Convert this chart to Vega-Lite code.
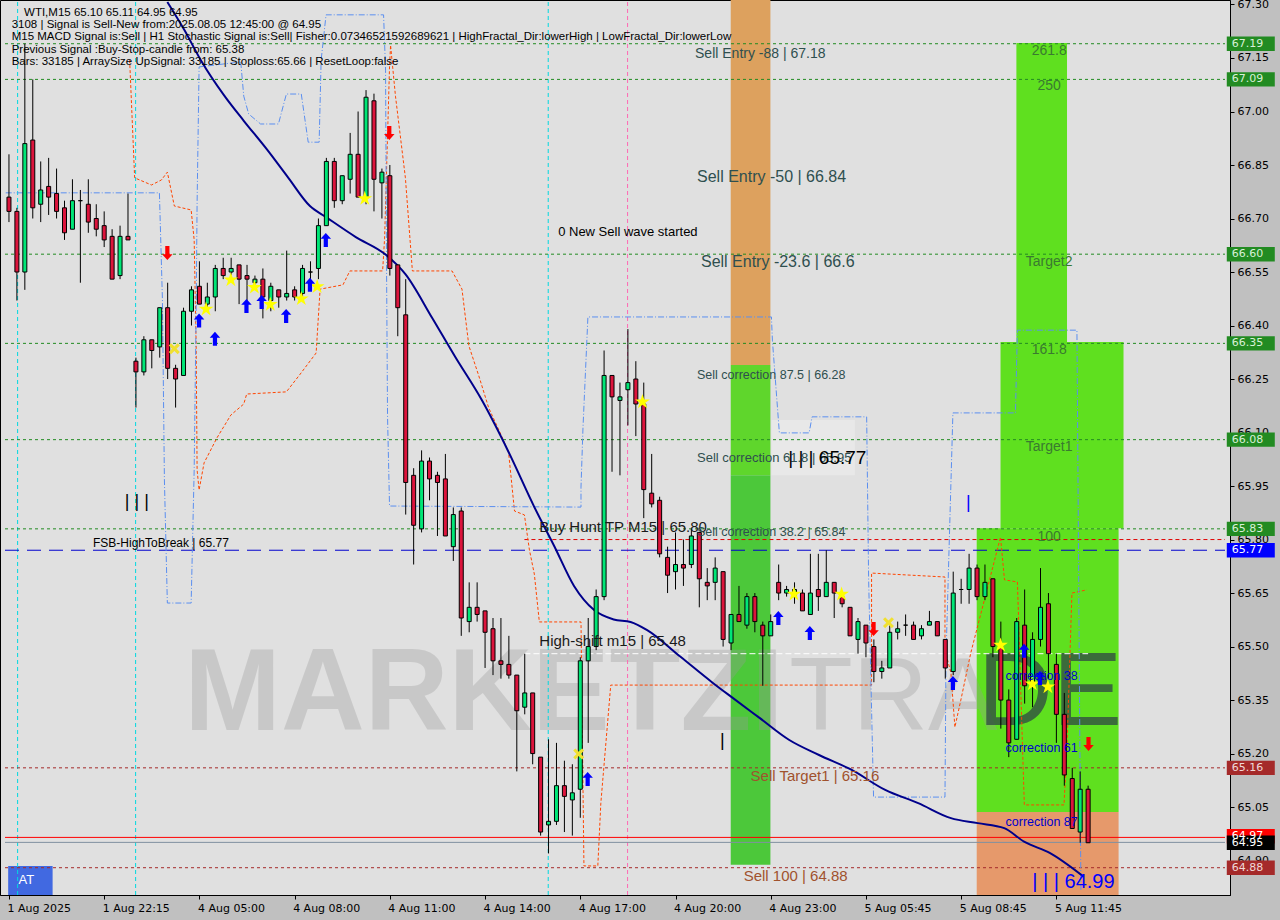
{
"$schema":"https://vega.github.io/schema/vega-lite/v6.json",
"width":1230,"height":895,
"autosize":{"type":"none"},
"padding":{"left":0,"top":0,"right":50,"bottom":25},
"background":"#c0c0c0",
"config":{"view":{"fill":"#e0e0e0","stroke":"#000000","strokeWidth":1},"font":"Liberation Sans","text":{"font":"Liberation Sans"},
 "axisBottom":{"labelColor":"#000000","labelFont":"DejaVu Sans","labelFontSize":11,"tickColor":"#000000","tickSize":4,"domainColor":"#000000","labelAlign":"left","labelPadding":3,"labelOffset":-2}},
"data":{"values":[
{"i":0,"o":66.76,"h":66.88,"l":66.69,"c":66.72},{"i":1,"o":66.72,"h":66.73,"l":66.47,"c":66.55},{"i":2,"o":66.55,"h":67.19,"l":66.50,"c":66.91},{"i":3,"o":66.92,"h":67.09,"l":66.70,"c":66.73},{"i":4,"o":66.74,"h":66.86,"l":66.69,"c":66.78},{"i":5,"o":66.79,"h":66.87,"l":66.71,"c":66.76},{"i":6,"o":66.77,"h":66.84,"l":66.70,"c":66.72},{"i":7,"o":66.73,"h":66.75,"l":66.64,"c":66.66},{"i":8,"o":66.67,"h":66.81,"l":66.67,"c":66.75},{"i":9,"o":66.75,"h":66.78,"l":66.52,"c":66.75},
{"i":10,"o":66.74,"h":66.81,"l":66.66,"c":66.69},{"i":11,"o":66.70,"h":66.74,"l":66.65,"c":66.67},{"i":12,"o":66.68,"h":66.72,"l":66.62,"c":66.64},{"i":13,"o":66.65,"h":66.67,"l":66.53,"c":66.53},{"i":14,"o":66.54,"h":66.68,"l":66.53,"c":66.65},{"i":15,"o":66.65,"h":66.77,"l":66.64,"c":66.64},{"i":16,"o":66.30,"h":66.31,"l":66.17,"c":66.27},{"i":17,"o":66.27,"h":66.37,"l":66.26,"c":66.36},{"i":18,"o":66.36,"h":66.36,"l":66.28,"c":66.33},{"i":19,"o":66.34,"h":66.45,"l":66.31,"c":66.45},
{"i":20,"o":66.45,"h":66.52,"l":66.25,"c":66.28},{"i":21,"o":66.28,"h":66.29,"l":66.17,"c":66.25},{"i":22,"o":66.26,"h":66.45,"l":66.26,"c":66.44},{"i":23,"o":66.44,"h":66.51,"l":66.40,"c":66.50},{"i":24,"o":66.51,"h":66.58,"l":66.46,"c":66.46},{"i":25,"o":66.46,"h":66.52,"l":66.44,"c":66.48},{"i":26,"o":66.48,"h":66.57,"l":66.44,"c":66.56},{"i":27,"o":66.56,"h":66.59,"l":66.53,"c":66.54},{"i":28,"o":66.55,"h":66.59,"l":66.54,"c":66.56},{"i":29,"o":66.57,"h":66.57,"l":66.46,"c":66.53},
{"i":30,"o":66.54,"h":66.57,"l":66.46,"c":66.53},{"i":31,"o":66.52,"h":66.54,"l":66.51,"c":66.53},{"i":32,"o":66.53,"h":66.56,"l":66.42,"c":66.48},{"i":33,"o":66.47,"h":66.52,"l":66.44,"c":66.51},{"i":34,"o":66.50,"h":66.50,"l":66.45,"c":66.48},{"i":35,"o":66.48,"h":66.61,"l":66.47,"c":66.49},{"i":36,"o":66.50,"h":66.51,"l":66.47,"c":66.48},{"i":37,"o":66.49,"h":66.57,"l":66.48,"c":66.56},{"i":38,"o":66.55,"h":66.58,"l":66.52,"c":66.55},{"i":39,"o":66.56,"h":66.70,"l":66.53,"c":66.68},
{"i":40,"o":66.68,"h":66.87,"l":66.68,"c":66.86},{"i":41,"o":66.86,"h":66.87,"l":66.73,"c":66.75},{"i":42,"o":66.75,"h":66.82,"l":66.74,"c":66.82},{"i":43,"o":66.81,"h":66.94,"l":66.77,"c":66.88},{"i":44,"o":66.88,"h":67.00,"l":66.76,"c":66.76},{"i":45,"o":66.76,"h":67.06,"l":66.74,"c":67.04},{"i":46,"o":67.03,"h":67.05,"l":66.72,"c":66.81},{"i":47,"o":66.80,"h":66.84,"l":66.70,"c":66.83},{"i":48,"o":66.82,"h":66.85,"l":66.54,"c":66.56},{"i":49,"o":66.57,"h":66.57,"l":66.37,"c":66.45},
{"i":50,"o":66.43,"h":66.53,"l":65.87,"c":65.96},{"i":51,"o":65.98,"h":66.00,"l":65.73,"c":65.84},{"i":52,"o":65.83,"h":66.05,"l":65.82,"c":66.02},{"i":53,"o":66.02,"h":66.03,"l":65.91,"c":65.97},{"i":54,"o":65.98,"h":65.99,"l":65.81,"c":65.96},{"i":55,"o":65.97,"h":66.04,"l":65.81,"c":65.81},{"i":56,"o":65.78,"h":65.89,"l":65.74,"c":65.87},{"i":57,"o":65.88,"h":65.89,"l":65.53,"c":65.58},{"i":58,"o":65.57,"h":65.68,"l":65.54,"c":65.61},{"i":59,"o":65.61,"h":65.68,"l":65.57,"c":65.59},
{"i":60,"o":65.60,"h":65.60,"l":65.44,"c":65.54},{"i":61,"o":65.55,"h":65.58,"l":65.42,"c":65.46},{"i":62,"o":65.46,"h":65.58,"l":65.41,"c":65.45},{"i":63,"o":65.45,"h":65.53,"l":65.41,"c":65.42},{"i":64,"o":65.42,"h":65.42,"l":65.15,"c":65.32},{"i":65,"o":65.33,"h":65.48,"l":65.31,"c":65.37},{"i":66,"o":65.37,"h":65.37,"l":65.17,"c":65.20},{"i":67,"o":65.19,"h":65.19,"l":64.97,"c":64.98},{"i":68,"o":65.00,"h":65.24,"l":64.92,"c":65.01},{"i":69,"o":65.01,"h":65.23,"l":65.00,"c":65.11},
{"i":70,"o":65.11,"h":65.18,"l":64.98,"c":65.08},{"i":71,"o":65.07,"h":65.17,"l":64.97,"c":65.09},{"i":72,"o":65.10,"h":65.47,"l":65.02,"c":65.46},{"i":73,"o":65.46,"h":65.58,"l":65.23,"c":65.50},{"i":74,"o":65.50,"h":65.66,"l":65.49,"c":65.64},{"i":75,"o":65.64,"h":66.33,"l":65.63,"c":66.26},{"i":76,"o":66.26,"h":66.26,"l":65.99,"c":66.20},{"i":77,"o":66.19,"h":66.24,"l":65.98,"c":66.20},{"i":78,"o":66.22,"h":66.39,"l":66.12,"c":66.24},{"i":79,"o":66.25,"h":66.30,"l":66.09,"c":66.18},
{"i":80,"o":66.18,"h":66.24,"l":65.86,"c":65.94},{"i":81,"o":65.93,"h":66.04,"l":65.89,"c":65.90},{"i":82,"o":65.91,"h":65.92,"l":65.75,"c":65.76},{"i":83,"o":65.75,"h":65.78,"l":65.65,"c":65.70},{"i":84,"o":65.71,"h":65.82,"l":65.66,"c":65.73},{"i":85,"o":65.73,"h":65.80,"l":65.67,"c":65.72},{"i":86,"o":65.73,"h":65.83,"l":65.72,"c":65.81},{"i":87,"o":65.82,"h":65.82,"l":65.61,"c":65.69},{"i":88,"o":65.68,"h":65.72,"l":65.63,"c":65.67},{"i":89,"o":65.68,"h":65.75,"l":65.63,"c":65.72},
{"i":90,"o":65.71,"h":65.71,"l":65.50,"c":65.52},{"i":91,"o":65.51,"h":65.59,"l":65.49,"c":65.59},{"i":92,"o":65.59,"h":65.67,"l":65.57,"c":65.57},{"i":93,"o":65.56,"h":65.65,"l":65.55,"c":65.64},{"i":94,"o":65.64,"h":65.65,"l":65.54,"c":65.57},{"i":95,"o":65.56,"h":65.57,"l":65.39,"c":65.53},{"i":96,"o":65.53,"h":65.59,"l":65.53,"c":65.57},{"i":97,"o":65.68,"h":65.73,"l":65.63,"c":65.65},{"i":98,"o":65.65,"h":65.67,"l":65.64,"c":65.66},{"i":99,"o":65.64,"h":65.68,"l":65.62,"c":65.66},
{"i":100,"o":65.65,"h":65.66,"l":65.60,"c":65.60},{"i":101,"o":65.59,"h":65.76,"l":65.59,"c":65.65},{"i":102,"o":65.66,"h":65.76,"l":65.60,"c":65.64},{"i":103,"o":65.64,"h":65.77,"l":65.64,"c":65.68},{"i":104,"o":65.68,"h":65.68,"l":65.58,"c":65.65},{"i":105,"o":65.64,"h":65.65,"l":65.61,"c":65.62},{"i":106,"o":65.61,"h":65.61,"l":65.53,"c":65.53},{"i":107,"o":65.52,"h":65.58,"l":65.48,"c":65.57},{"i":108,"o":65.56,"h":65.56,"l":65.47,"c":65.51},{"i":109,"o":65.50,"h":65.52,"l":65.40,"c":65.43},
{"i":110,"o":65.43,"h":65.46,"l":65.41,"c":65.44},{"i":111,"o":65.44,"h":65.56,"l":65.44,"c":65.54},{"i":112,"o":65.54,"h":65.57,"l":65.52,"c":65.55},{"i":113,"o":65.56,"h":65.59,"l":65.53,"c":65.56},{"i":114,"o":65.56,"h":65.57,"l":65.52,"c":65.52},{"i":115,"o":65.53,"h":65.56,"l":65.52,"c":65.55},{"i":116,"o":65.56,"h":65.60,"l":65.56,"c":65.57},{"i":117,"o":65.57,"h":65.57,"l":65.53,"c":65.53},{"i":118,"o":65.52,"h":65.52,"l":65.41,"c":65.44},{"i":119,"o":65.43,"h":65.71,"l":65.42,"c":65.65},
{"i":120,"o":65.66,"h":65.69,"l":65.62,"c":65.66},{"i":121,"o":65.66,"h":65.76,"l":65.62,"c":65.72},{"i":122,"o":65.72,"h":65.73,"l":65.63,"c":65.64},{"i":123,"o":65.64,"h":65.73,"l":65.63,"c":65.68},{"i":124,"o":65.69,"h":65.69,"l":65.47,"c":65.50},{"i":125,"o":65.50,"h":65.57,"l":65.27,"c":65.35},{"i":126,"o":65.35,"h":65.38,"l":65.19,"c":65.23},{"i":127,"o":65.24,"h":65.58,"l":65.24,"c":65.57},{"i":128,"o":65.56,"h":65.66,"l":65.34,"c":65.39},{"i":129,"o":65.39,"h":65.54,"l":65.33,"c":65.52},
{"i":130,"o":65.52,"h":65.72,"l":65.50,"c":65.61},{"i":131,"o":65.62,"h":65.65,"l":65.41,"c":65.48},{"i":132,"o":65.45,"h":65.48,"l":65.23,"c":65.31},{"i":133,"o":65.31,"h":65.37,"l":65.11,"c":65.14},{"i":134,"o":65.13,"h":65.16,"l":64.99,"c":64.99},{"i":135,"o":64.98,"h":65.15,"l":64.95,"c":65.10},{"i":136,"o":65.10,"h":65.11,"l":64.95,"c":64.95}
]},
"encoding":{
  "x":{"field":"i","type":"quantitative","scale":{"domain":[-0.5,153.25],"nice":false,"zero":false},
   "axis":{"title":null,"values":[0,12,24,36,48,60,72,84,96,108,120,132],"labelExpr":"datum.value==0?'1 Aug 2025':datum.value==12?'1 Aug 22:15':datum.value==24?'4 Aug 05:00':datum.value==36?'4 Aug 08:00':datum.value==48?'4 Aug 11:00':datum.value==60?'4 Aug 14:00':datum.value==72?'4 Aug 17:00':datum.value==84?'4 Aug 20:00':datum.value==96?'4 Aug 23:00':datum.value==108?'5 Aug 05:45':datum.value==120?'5 Aug 08:45':'5 Aug 11:45'","labelFlush":false,"labelOverlap":false,"grid":false}},
  "y":{"field":"l","type":"quantitative","scale":{"domain":[64.8035,67.3126],"nice":false,"zero":false},
   "axis":{"title":null,"orient":"right","values":[64.90,65.05,65.20,65.35,65.50,65.65,65.80,65.95,66.10,66.25,66.40,66.55,66.70,66.85,67.00,67.15,67.30],"format":".2f","labelPadding":3,"labelFont":"DejaVu Sans","labelFontSize":11,"labelColor":"#000000","tickColor":"#000000","tickSize":4,"domainColor":"#000000","grid":false,"labelOverlap":false}}
},
"layer":[
{"data":{"values":[
{"i":90.96,"i2":95.96,"p":66.289,"p2":67.3126,"f":"#dda15e"},
{"i":90.96,"i2":95.96,"p":65.98,"p2":66.289,"f":"#5fd62c"},
{"i":90.96,"i2":95.96,"p":64.888,"p2":65.98,"f":"#4cc83a"},
{"i":126.96,"i2":133.34,"p":66.354,"p2":67.192,"f":"#5fe01f"},
{"i":124.96,"i2":140.46,"p":65.832,"p2":66.354,"f":"#5fe01f"},
{"i":121.96,"i2":139.84,"p":65.036,"p2":65.832,"f":"#5fe01f"},
{"i":121.96,"i2":139.84,"p":64.8035,"p2":65.036,"f":"#e6996b"},
{"i":-0.1,"i2":5.5,"p":64.8035,"p2":64.885,"f":"#4169e1"},
{"i":96.1,"i2":106.6,"p":65.98,"p2":66.135,"f":"#e8e8e8"}
]},"mark":{"type":"rect"},
 "encoding":{"x2":{"field":"i2"},"y":{"field":"p","type":"quantitative"},"y2":{"field":"p2"},"fill":{"field":"f","type":"nominal","scale":null}}},
{"data":{"values":[{"i":22.09,"p":65.266,"t":"MARKETZI"}]},"mark":{"type":"text","align":"left","baseline":"alphabetic","fontSize":116,"fontWeight":"bold","fill":"#9a9a9a","opacity":0.33},
 "encoding":{"y":{"field":"p","type":"quantitative"},"text":{"field":"t"}}},
{"data":{"values":[{"i":98.34,"p":65.266,"t":"TRA"}]},"mark":{"type":"text","align":"left","baseline":"alphabetic","fontSize":104,"fontWeight":"normal","fill":"#9a9a9a","opacity":0.33},
 "encoding":{"y":{"field":"p","type":"quantitative"},"text":{"field":"t"}}},
{"data":{"values":[{"i":122.09,"p":65.280,"t":"DE"}]},"mark":{"type":"text","align":"left","baseline":"alphabetic","fontSize":104,"fontWeight":"normal","fill":"#2f4545","opacity":0.75},
 "encoding":{"y":{"field":"p","type":"quantitative"},"text":{"field":"t"}}},
{"data":{"values":[{"i":1.09,"p":64.8035,"p2":67.3126},{"i":15.96,"p":64.8035,"p2":67.3126},{"i":67.96,"p":64.8035,"p2":67.3126}]},"mark":{"type":"rule","color":"#00d8e0","strokeDash":[4,3],"strokeWidth":1},
 "encoding":{"y":{"field":"p","type":"quantitative"},"y2":{"field":"p2"}}},
{"data":{"values":[{"i":77.96,"p":64.8035,"p2":67.3126}]},"mark":{"type":"rule","color":"#ff69b4","strokeDash":[4,3],"strokeWidth":1},
 "encoding":{"y":{"field":"p","type":"quantitative"},"y2":{"field":"p2"}}},
{"data":{"values":[{"i":-0.5,"i2":153.25,"p":67.19},{"i":-0.5,"i2":153.25,"p":67.09},{"i":-0.5,"i2":153.25,"p":66.60},{"i":-0.5,"i2":153.25,"p":66.35},{"i":-0.5,"i2":153.25,"p":66.08},{"i":-0.5,"i2":153.25,"p":65.83}]},"mark":{"type":"rule","color":"#228b22","strokeDash":[3,3],"strokeWidth":1},
 "encoding":{"x2":{"field":"i2"},"y":{"field":"p","type":"quantitative"}}},
{"data":{"values":[{"i":-0.5,"i2":153.25,"p":65.16},{"i":-0.5,"i2":153.25,"p":64.88}]},"mark":{"type":"rule","color":"#a52a2a","strokeDash":[3,3],"strokeWidth":1},
 "encoding":{"x2":{"field":"i2"},"y":{"field":"p","type":"quantitative"}}},
{"data":{"values":[{"i":-0.5,"i2":153.25,"p":65.77}]},"mark":{"type":"rule","color":"#0000cd","strokeDash":[14,8],"strokeWidth":1},
 "encoding":{"x2":{"field":"i2"},"y":{"field":"p","type":"quantitative"}}},
{"data":{"values":[{"i":-0.5,"i2":153.25,"p":64.965}]},"mark":{"type":"rule","color":"#ff0000","strokeWidth":1},
 "encoding":{"x2":{"field":"i2"},"y":{"field":"p","type":"quantitative"}}},
{"data":{"values":[{"i":-0.5,"i2":153.25,"p":64.951}]},"mark":{"type":"rule","color":"#8090a0","strokeWidth":1},
 "encoding":{"x2":{"field":"i2"},"y":{"field":"p","type":"quantitative"}}},
{"data":{"values":[{"i":64.96,"i2":153.25,"p":65.80}]},"mark":{"type":"rule","color":"#e00000","strokeDash":[4,3],"strokeWidth":1},
 "encoding":{"x2":{"field":"i2"},"y":{"field":"p","type":"quantitative"}}},
{"data":{"values":[{"i":64.96,"i2":136.0,"p":65.48}]},"mark":{"type":"rule","color":"#ffffff","strokeDash":[6,3],"strokeWidth":1},
 "encoding":{"x2":{"field":"i2"},"y":{"field":"p","type":"quantitative"}}},
{"data":{"values":[
{"k":1,"i":15.21,"p":67.144},{"k":2,"i":15.84,"p":66.814},{"k":3,"i":17.96,"p":66.794},{"k":4,"i":19.21,"p":66.808},{"k":5,"i":19.96,"p":66.830},{"k":6,"i":20.84,"p":66.735},{"k":7,"i":22.96,"p":66.724},{"k":8,"i":23.34,"p":66.640},{"k":9,"i":23.59,"p":66.345},{"k":10,"i":23.71,"p":65.995},{"k":11,"i":23.96,"p":65.939},{"k":12,"i":24.59,"p":66.015},{"k":13,"i":26.21,"p":66.085},{"k":14,"i":27.96,"p":66.149},{"k":15,"i":29.59,"p":66.180},{"k":16,"i":29.96,"p":66.208},{"k":17,"i":34.96,"p":66.214},{"k":18,"i":36.71,"p":66.264},{"k":19,"i":38.71,"p":66.323},{"k":20,"i":39.21,"p":66.502},{"k":21,"i":42.09,"p":66.514},{"k":22,"i":42.96,"p":66.553},{"k":23,"i":47.09,"p":66.553},{"k":24,"i":47.34,"p":66.645},{"k":25,"i":47.96,"p":67.125},{"k":26,"i":48.09,"p":67.186},{"k":27,"i":48.71,"p":67.043},{"k":28,"i":49.96,"p":66.814},{"k":29,"i":50.84,"p":66.553},{"k":30,"i":55.84,"p":66.553},{"k":31,"i":57.09,"p":66.502},{"k":32,"i":57.96,"p":66.343},{"k":33,"i":59.21,"p":66.259},{"k":34,"i":60.46,"p":66.169},{"k":35,"i":62.09,"p":66.090},{"k":36,"i":62.96,"p":66.045},{"k":37,"i":63.71,"p":65.880},{"k":38,"i":64.96,"p":65.869},{"k":39,"i":65.59,"p":65.771},{"k":40,"i":66.21,"p":65.703},{"k":41,"i":66.84,"p":65.569},{"k":42,"i":72.09,"p":65.569},{"k":43,"i":72.46,"p":64.885},{"k":44,"i":74.21,"p":64.885},{"k":45,"i":74.59,"p":65.061},{"k":46,"i":75.84,"p":65.392},{"k":47,"i":108.71,"p":65.392},{"k":48,"i":108.71,"p":65.706},{"k":49,"i":117.96,"p":65.695},{"k":50,"i":117.96,"p":65.490},{"k":51,"i":118.71,"p":65.426},{"k":52,"i":119.21,"p":65.274},{"k":53,"i":119.96,"p":65.350},{"k":54,"i":121.21,"p":65.482},{"k":55,"i":124.96,"p":65.807},{"k":56,"i":125.46,"p":65.687},{"k":57,"i":127.09,"p":65.681},{"k":58,"i":127.96,"p":65.056},{"k":59,"i":132.96,"p":65.056},{"k":60,"i":133.34,"p":65.218},{"k":61,"i":133.96,"p":65.650},{"k":62,"i":135.84,"p":65.659}
]},"mark":{"type":"line","color":"#ff4500","strokeDash":[3,2],"strokeWidth":1},
 "encoding":{"y":{"field":"p","type":"quantitative"},"order":{"field":"k","type":"quantitative"}}},
{"data":{"values":[
{"k":1,"i":-0.41,"p":66.772},{"k":2,"i":18.96,"p":66.772},{"k":3,"i":19.34,"p":66.472},{"k":4,"i":19.59,"p":65.967},{"k":5,"i":19.96,"p":65.622},{"k":6,"i":22.96,"p":65.622},{"k":7,"i":23.34,"p":65.995},{"k":8,"i":23.59,"p":66.444},{"k":9,"i":23.71,"p":66.744},{"k":10,"i":23.96,"p":67.125},{"k":11,"i":29.21,"p":67.139},{"k":12,"i":29.59,"p":67.043},{"k":13,"i":30.21,"p":66.993},{"k":14,"i":31.71,"p":66.965},{"k":15,"i":33.96,"p":66.965},{"k":16,"i":34.96,"p":67.049},{"k":17,"i":36.84,"p":67.049},{"k":18,"i":37.71,"p":66.914},{"k":19,"i":39.09,"p":66.914},{"k":20,"i":39.34,"p":67.144},{"k":21,"i":39.96,"p":67.271},{"k":22,"i":47.21,"p":67.271},{"k":23,"i":47.46,"p":67.116},{"k":24,"i":47.59,"p":66.544},{"k":25,"i":47.71,"p":66.144},{"k":26,"i":47.96,"p":65.894},{"k":27,"i":72.09,"p":65.891},{"k":28,"i":72.09,"p":65.947},{"k":29,"i":72.34,"p":66.113},{"k":30,"i":72.96,"p":66.424},{"k":31,"i":96.09,"p":66.424},{"k":32,"i":96.21,"p":66.359},{"k":33,"i":97.09,"p":66.099},{"k":34,"i":100.84,"p":66.099},{"k":35,"i":101.21,"p":66.144},{"k":36,"i":108.09,"p":66.144},{"k":37,"i":108.34,"p":65.687},{"k":38,"i":108.96,"p":65.078},{"k":39,"i":117.96,"p":65.078},{"k":40,"i":118.09,"p":65.471},{"k":41,"i":118.96,"p":66.155},{"k":42,"i":126.84,"p":66.155},{"k":43,"i":127.09,"p":66.387},{"k":44,"i":134.59,"p":66.387},{"k":45,"i":135.09,"p":64.818}
]},"mark":{"type":"line","color":"#5b8ff0","strokeDash":[6,2,1,2],"strokeWidth":1},
 "encoding":{"y":{"field":"p","type":"quantitative"},"order":{"field":"k","type":"quantitative"}}},
{"data":{"values":[
{"i":19.96,"p":67.307},{"i":22.09,"p":67.229},{"i":24.18,"p":67.144},{"i":27.09,"p":67.046},{"i":29.59,"p":66.974},{"i":32.46,"p":66.895},{"i":35.21,"p":66.814},{"i":37.93,"p":66.735},{"i":39.96,"p":66.704},{"i":43.71,"p":66.648},{"i":47.46,"p":66.599},{"i":49.96,"p":66.544},{"i":53.34,"p":66.421},{"i":56.21,"p":66.313},{"i":59.59,"p":66.191},{"i":62.93,"p":66.047},{"i":66.21,"p":65.891},{"i":68.71,"p":65.782},{"i":71.21,"p":65.670},{"i":73.71,"p":65.603},{"i":76.21,"p":65.576},{"i":78.34,"p":65.569},{"i":80.43,"p":65.546},{"i":84.59,"p":65.472},{"i":88.71,"p":65.398},{"i":91.21,"p":65.356},{"i":94.59,"p":65.300},{"i":98.34,"p":65.238},{"i":102.09,"p":65.196},{"i":106.21,"p":65.154},{"i":110.43,"p":65.098},{"i":114.59,"p":65.061},{"i":118.71,"p":65.019},{"i":122.09,"p":65.005},{"i":125.43,"p":64.991},{"i":127.93,"p":64.953},{"i":131.21,"p":64.921},{"i":135.43,"p":64.855}
]},"mark":{"type":"line","color":"#00008b","strokeWidth":2,"interpolate":"monotone"},
 "encoding":{"y":{"field":"p","type":"quantitative"}}},
{"mark":{"type":"rule","color":"#000000","strokeWidth":1},
 "encoding":{"y2":{"field":"h"}}},
{"mark":{"type":"bar","size":4,"stroke":"#000000","strokeWidth":1},
 "encoding":{"y":{"field":"o","type":"quantitative"},"y2":{"field":"c"},
  "fill":{"condition":{"test":"datum.c >= datum.o","value":"#00e676"},"value":"#dc143c"}}},
{"data":{"values":[{"i":24.84,"p":66.446},{"i":27.96,"p":66.528},{"i":30.93,"p":66.507},{"i":32.93,"p":66.459},{"i":36.84,"p":66.475},{"i":38.84,"p":66.509},{"i":44.84,"p":66.756},{"i":79.84,"p":66.186},{"i":98.93,"p":65.647},{"i":104.93,"p":65.647},{"i":124.96,"p":65.504},{"i":128.96,"p":65.395},{"i":130.93,"p":65.387}]},
 "mark":{"type":"point","filled":true,"shape":"M0,-1L0.2245,-0.309L0.9511,-0.309L0.3633,0.118L0.5878,0.809L0,0.382L-0.5878,0.809L-0.3633,0.118L-0.9511,-0.309L-0.2245,-0.309Z","size":240,"fill":"#ffff00","opacity":1,"strokeWidth":0},
 "encoding":{"y":{"field":"p","type":"quantitative"}}},
{"data":{"values":[{"i":20.84,"p":66.335},{"i":71.8,"p":65.199},{"i":110.84,"p":65.567}]},
 "mark":{"type":"point","filled":true,"shape":"M-1,-0.6L-0.6,-1L0,-0.4L0.6,-1L1,-0.6L0.4,0L1,0.6L0.6,1L0,0.4L-0.6,1L-1,0.6L-0.4,0Z","size":121,"fill":"#f0e030","opacity":1,"strokeWidth":0},
 "encoding":{"y":{"field":"p","type":"quantitative"}}},
{"data":{"values":[{"i":23.96,"p":66.414},{"i":25.96,"p":66.363},{"i":29.93,"p":66.455},{"i":31.84,"p":66.466},{"i":34.93,"p":66.427},{"i":37.93,"p":66.514},{"i":39.93,"p":66.640},{"i":72.93,"p":65.129},{"i":96.96,"p":65.580},{"i":100.93,"p":65.538},{"i":118.96,"p":65.398},{"i":127.93,"p":65.488},{"i":129.93,"p":65.412}]},
 "mark":{"type":"point","filled":true,"shape":"M0,-1L0.75,-0.15L0.3,-0.15L0.3,1L-0.3,1L-0.3,-0.15L-0.75,-0.15Z","size":196,"fill":"#0000ff","opacity":1,"strokeWidth":0},
 "encoding":{"y":{"field":"p","type":"quantitative"}}},
{"data":{"values":[{"i":19.96,"p":66.603},{"i":47.93,"p":66.940},{"i":108.96,"p":65.549},{"i":136.05,"p":65.227}]},
 "mark":{"type":"point","filled":true,"shape":"M0,1L0.75,0.15L0.3,0.15L0.3,-1L-0.3,-1L-0.3,0.15L-0.75,0.15Z","size":196,"fill":"#ff0000","opacity":1,"strokeWidth":0},
 "encoding":{"y":{"field":"p","type":"quantitative"}}},
{"data":{"values":[
{"i":86.46,"p":67.161,"t":"Sell Entry -88 | 67.18","col":"#2f4f4f","sz":14},
{"i":86.71,"p":66.816,"t":"Sell Entry -50 | 66.84","col":"#2f4f4f","sz":16},
{"i":69.21,"p":66.662,"t":"0 New Sell wave started","col":"#000000","sz":13},
{"i":87.21,"p":66.578,"t":"Sell Entry -23.6 | 66.6","col":"#2f4f4f","sz":16},
{"i":86.71,"p":66.261,"t":"Sell correction 87.5 | 66.28","col":"#2f4f4f","sz":12.5},
{"i":86.71,"p":66.029,"t":"Sell correction 61.8 | 65.95","col":"#2f4f4f","sz":13},
{"i":98.2,"p":66.029,"t":"| | | 65.77","col":"#000000","sz":19},
{"i":66.84,"p":65.835,"t":"Buy Hunt TP M15 | 65.80","col":"#1a1a1a","sz":15},
{"i":86.71,"p":65.821,"t":"Sell correction 38.2 | 65.84","col":"#2f4f4f","sz":12.5},
{"i":10.59,"p":65.790,"t":"FSB-HighToBreak | 65.77","col":"#000000","sz":12},
{"i":66.84,"p":65.516,"t":"High-shift m15 | 65.48","col":"#1a1a1a","sz":15},
{"i":93.46,"p":65.137,"t":"Sell Target1 | 65.16","col":"#a0522d","sz":15},
{"i":92.59,"p":64.857,"t":"Sell 100 | 64.88","col":"#a0522d","sz":15},
{"i":128.96,"p":64.840,"t":"| | | 64.99","col":"#0000ff","sz":20},
{"i":125.59,"p":65.417,"t":"correction 38","col":"#0000cd","sz":12.5},
{"i":125.59,"p":65.216,"t":"correction 61","col":"#0000cd","sz":12.5},
{"i":125.59,"p":65.008,"t":"correction 87","col":"#0000cd","sz":12.5},
{"i":14.6,"p":65.905,"t":"| | |","col":"#000000","sz":18},
{"i":120.6,"p":65.902,"t":"|","col":"#0000ff","sz":18},
{"i":89.6,"p":65.235,"t":"|","col":"#000000","sz":18},
{"i":1.2,"p":64.845,"t":"AT","col":"#ffffff","sz":13}
]},"mark":{"type":"text","align":"left","baseline":"middle"},
 "encoding":{"y":{"field":"p","type":"quantitative"},"text":{"field":"t"},"color":{"field":"col","type":"nominal","scale":null},"size":{"field":"sz","type":"quantitative","scale":null}}},
{"data":{"values":[{"i":131.09,"p":67.170,"t":"261.8"},{"i":131.09,"p":67.071,"t":"250"},{"i":131.09,"p":66.578,"t":"Target2"},{"i":131.09,"p":66.331,"t":"161.8"},{"i":131.09,"p":66.060,"t":"Target1"},{"i":131.09,"p":65.807,"t":"100"}]},
 "mark":{"type":"text","align":"center","baseline":"middle","fontSize":14,"color":"#3a7a30"},
 "encoding":{"y":{"field":"p","type":"quantitative"},"text":{"field":"t"}}},
{"data":{"values":[
{"i":1.9,"p":67.277,"t":"WTI,M15  65.10 65.11 64.95 64.95"},
{"i":0.34,"p":67.243,"t":"3108 | Signal is Sell-New from:2025.08.05 12:45:00 @ 64.95"},
{"i":0.34,"p":67.208,"t":"M15 MACD Signal is:Sell | H1 Stochastic Signal is:Sell| Fisher:0.07346521592689621 | HighFractal_Dir:lowerHigh | LowFractal_Dir:lowerLow"},
{"i":0.34,"p":67.172,"t":"Previous Signal :Buy-Stop-candle from: 65.38"},
{"i":0.34,"p":67.140,"t":"Bars: 33185 | ArraySize UpSignal: 33185 | Stoploss:65.66 | ResetLoop:false"}
]},"mark":{"type":"text","align":"left","baseline":"middle","fontSize":11.5,"color":"#000000"},
 "encoding":{"y":{"field":"p","type":"quantitative"},"text":{"field":"t"}}},
{"data":{"values":[
{"i":156.5,"p":67.19,"t":"67.19","f":"#228b22","tc":"#d8f0d8"},
{"i":156.5,"p":67.09,"t":"67.09","f":"#228b22","tc":"#d8f0d8"},
{"i":156.5,"p":66.60,"t":"66.60","f":"#228b22","tc":"#d8f0d8"},
{"i":156.5,"p":66.35,"t":"66.35","f":"#228b22","tc":"#d8f0d8"},
{"i":156.5,"p":66.08,"t":"66.08","f":"#228b22","tc":"#d8f0d8"},
{"i":156.5,"p":65.83,"t":"65.83","f":"#228b22","tc":"#d8f0d8"},
{"i":156.5,"p":65.77,"t":"65.77","f":"#0000ff","tc":"#ffffff"},
{"i":156.5,"p":65.16,"t":"65.16","f":"#a52a2a","tc":"#f0d8d8"},
{"i":156.5,"p":64.968,"t":"64.97","f":"#ff0000","tc":"#ffffff"},
{"i":156.5,"p":64.95,"t":"64.95","f":"#000000","tc":"#ffffff"},
{"i":156.5,"p":64.88,"t":"64.88","f":"#a52a2a","tc":"#f0d8d8"}
]},
 "layer":[
  {"mark":{"type":"point","filled":true,"shape":"M-1,-0.3L1,-0.3L1,0.3L-1,0.3Z","size":2304,"opacity":1,"strokeWidth":0},
   "encoding":{"y":{"field":"p","type":"quantitative"},"fill":{"field":"f","type":"nominal","scale":null}}},
  {"mark":{"type":"text","align":"left","baseline":"middle","font":"DejaVu Sans","fontSize":11,"dx":-19},
   "encoding":{"y":{"field":"p","type":"quantitative"},"text":{"field":"t"},"color":{"field":"tc","type":"nominal","scale":null}}}
 ]}
]
}
